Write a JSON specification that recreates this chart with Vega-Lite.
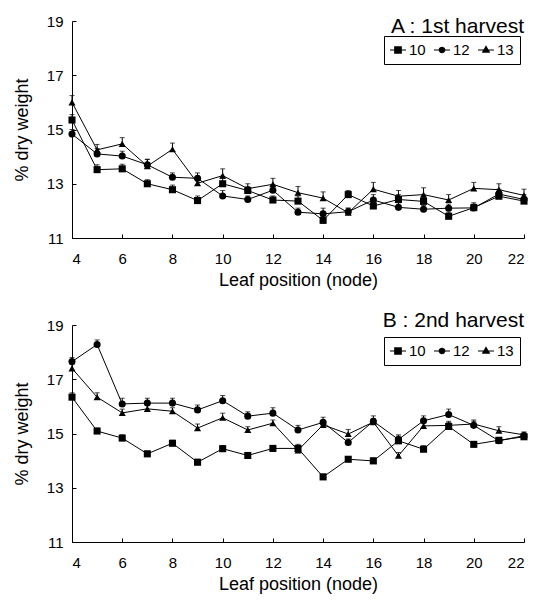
{
  "$schema": "https://vega.github.io/schema/vega-lite/v6.json",
  "padding": {"left": 13, "top": 14, "right": 2, "bottom": 5},
  "background": "white",
  "config": {
    "font": "Liberation Sans",
    "view": {"stroke": null},
    "axis": {
      "domainColor": "black", "tickColor": "black", "labelColor": "black", "titleColor": "black",
      "grid": false, "labelFont": "Liberation Sans", "titleFont": "Liberation Sans",
      "labelFontSize": 15, "titleFontSize": 18, "titleFontWeight": "normal",
      "tickSize": -4, "domainWidth": 1, "tickWidth": 1
    },
    "axisX": {"labelPadding": 17, "titlePadding": 5},
    "axisY": {"labelPadding": 13, "titlePadding": 15},
    "title": {"font": "Liberation Sans", "fontSize": 21, "fontWeight": "normal", "color": "black", "anchor": "end", "frame": "group", "baseline": "alphabetic"},
    "legend": {"labelFont": "Liberation Sans", "labelFontSize": 15, "labelColor": "black"}
  },
  "datasets": {
    "a": [
      {"node":4,"line":"10","v":15.35,"hi":15.55},{"node":5,"line":"10","v":13.52,"hi":13.7},{"node":6,"line":"10","v":13.55,"hi":13.72},{"node":7,"line":"10","v":13.0,"hi":13.15},{"node":8,"line":"10","v":12.78,"hi":12.95},{"node":9,"line":"10","v":12.38,"hi":12.55},{"node":10,"line":"10","v":13.0,"hi":13.2},{"node":11,"line":"10","v":12.75,"hi":12.9},{"node":12,"line":"10","v":12.4,"hi":12.55},{"node":13,"line":"10","v":12.36,"hi":12.55},{"node":14,"line":"10","v":11.65,"hi":11.85},{"node":15,"line":"10","v":12.6,"hi":12.75},{"node":16,"line":"10","v":12.18,"hi":12.35},{"node":17,"line":"10","v":12.42,"hi":12.6},{"node":18,"line":"10","v":12.35,"hi":12.5},{"node":19,"line":"10","v":11.8,"hi":11.95},{"node":20,"line":"10","v":12.12,"hi":12.25},{"node":21,"line":"10","v":12.54,"hi":12.7},{"node":22,"line":"10","v":12.36,"hi":12.5},
      {"node":4,"line":"12","v":14.83,"hi":15.0},{"node":5,"line":"12","v":14.1,"hi":14.3},{"node":6,"line":"12","v":14.02,"hi":14.2},{"node":7,"line":"12","v":13.7,"hi":13.9},{"node":8,"line":"12","v":13.24,"hi":13.4},{"node":9,"line":"12","v":13.2,"hi":13.4},{"node":10,"line":"12","v":12.55,"hi":12.75},{"node":11,"line":"12","v":12.42,"hi":12.55},{"node":12,"line":"12","v":12.76,"hi":12.95},{"node":13,"line":"12","v":11.95,"hi":12.1},{"node":14,"line":"12","v":11.89,"hi":12.1},{"node":15,"line":"12","v":11.97,"hi":12.1},{"node":16,"line":"12","v":12.4,"hi":12.6},{"node":17,"line":"12","v":12.13,"hi":12.3},{"node":18,"line":"12","v":12.06,"hi":12.2},{"node":19,"line":"12","v":12.1,"hi":12.25},{"node":20,"line":"12","v":12.11,"hi":12.3},{"node":21,"line":"12","v":12.62,"hi":12.8},{"node":22,"line":"12","v":12.42,"hi":12.6},
      {"node":4,"line":"13","v":16.0,"hi":16.25},{"node":5,"line":"13","v":14.25,"hi":14.45},{"node":6,"line":"13","v":14.47,"hi":14.7},{"node":7,"line":"13","v":13.65,"hi":13.9},{"node":8,"line":"13","v":14.27,"hi":14.5},{"node":9,"line":"13","v":13.02,"hi":13.2},{"node":10,"line":"13","v":13.3,"hi":13.55},{"node":11,"line":"13","v":12.82,"hi":13.0},{"node":12,"line":"13","v":12.98,"hi":13.2},{"node":13,"line":"13","v":12.67,"hi":12.9},{"node":14,"line":"13","v":12.47,"hi":12.7},{"node":15,"line":"13","v":11.93,"hi":12.1},{"node":16,"line":"13","v":12.8,"hi":13.05},{"node":17,"line":"13","v":12.54,"hi":12.75},{"node":18,"line":"13","v":12.6,"hi":12.85},{"node":19,"line":"13","v":12.4,"hi":12.6},{"node":20,"line":"13","v":12.83,"hi":13.05},{"node":21,"line":"13","v":12.78,"hi":13.0},{"node":22,"line":"13","v":12.57,"hi":12.8}
    ],
    "b": [
      {"node":4,"line":"10","v":16.34,"hi":16.5},{"node":5,"line":"10","v":15.09,"hi":15.2},{"node":6,"line":"10","v":14.83,"hi":14.95},{"node":7,"line":"10","v":14.25,"hi":14.35},{"node":8,"line":"10","v":14.64,"hi":14.75},{"node":9,"line":"10","v":13.94,"hi":14.05},{"node":10,"line":"10","v":14.44,"hi":14.55},{"node":11,"line":"10","v":14.19,"hi":14.3},{"node":12,"line":"10","v":14.45,"hi":14.55},{"node":13,"line":"10","v":14.45,"hi":14.6},{"node":14,"line":"10","v":13.4,"hi":13.5},{"node":15,"line":"10","v":14.05,"hi":14.15},{"node":16,"line":"10","v":13.99,"hi":14.1},{"node":17,"line":"10","v":14.73,"hi":14.95},{"node":18,"line":"10","v":14.42,"hi":14.55},{"node":19,"line":"10","v":15.26,"hi":15.4},{"node":20,"line":"10","v":14.6,"hi":14.7},{"node":21,"line":"10","v":14.75,"hi":14.85},{"node":22,"line":"10","v":14.88,"hi":15.0},
      {"node":4,"line":"12","v":17.65,"hi":17.8},{"node":5,"line":"12","v":18.28,"hi":18.45},{"node":6,"line":"12","v":16.09,"hi":16.3},{"node":7,"line":"12","v":16.12,"hi":16.3},{"node":8,"line":"12","v":16.12,"hi":16.3},{"node":9,"line":"12","v":15.87,"hi":16.05},{"node":10,"line":"12","v":16.21,"hi":16.4},{"node":11,"line":"12","v":15.64,"hi":15.8},{"node":12,"line":"12","v":15.75,"hi":15.95},{"node":13,"line":"12","v":15.13,"hi":15.3},{"node":14,"line":"12","v":15.41,"hi":15.6},{"node":15,"line":"12","v":14.67,"hi":14.8},{"node":16,"line":"12","v":15.45,"hi":15.65},{"node":17,"line":"12","v":14.78,"hi":14.9},{"node":18,"line":"12","v":15.47,"hi":15.65},{"node":19,"line":"12","v":15.7,"hi":15.9},{"node":20,"line":"12","v":15.3,"hi":15.45},{"node":21,"line":"12","v":14.73,"hi":14.85},{"node":22,"line":"12","v":14.92,"hi":15.05},
      {"node":4,"line":"13","v":17.4,"hi":17.55},{"node":5,"line":"13","v":16.34,"hi":16.5},{"node":6,"line":"13","v":15.76,"hi":15.9},{"node":7,"line":"13","v":15.91,"hi":16.05},{"node":8,"line":"13","v":15.82,"hi":15.95},{"node":9,"line":"13","v":15.2,"hi":15.35},{"node":10,"line":"13","v":15.58,"hi":15.75},{"node":11,"line":"13","v":15.13,"hi":15.25},{"node":12,"line":"13","v":15.38,"hi":15.5},{"node":13,"line":"13","v":14.38,"hi":14.5},{"node":14,"line":"13","v":15.32,"hi":15.45},{"node":15,"line":"13","v":14.98,"hi":15.15},{"node":16,"line":"13","v":15.42,"hi":15.55},{"node":17,"line":"13","v":14.18,"hi":14.3},{"node":18,"line":"13","v":15.28,"hi":15.45},{"node":19,"line":"13","v":15.3,"hi":15.45},{"node":20,"line":"13","v":15.35,"hi":15.5},{"node":21,"line":"13","v":15.1,"hi":15.25},{"node":22,"line":"13","v":14.95,"hi":15.05}
    ]
  },
  "spacing": 21,
  "vconcat": [
    {
      "width": 452, "height": 217,
      "title": {"text": "A : 1st harvest", "offset": -23},
      "data": {"name": "a"},
      "encoding": {
        "x": {"field": "node", "type": "quantitative", "scale": {"domain": [4, 22], "nice": false}, "axis": {"values": [4,6,8,10,12,14,16,18,20,22], "title": "Leaf position (node)"}},
        "y": {"field": "v", "type": "quantitative", "scale": {"domain": [11, 19], "nice": false, "zero": false}, "axis": {"values": [11,13,15,17,19], "title": "% dry weight"}}
      },
      "layer": [
        {"mark": {"type": "rule", "color": "black", "strokeWidth": 1}, "encoding": {"y2": {"field": "hi"}}},
        {"mark": {"type": "tick", "orient": "horizontal", "color": "black", "size": 5, "thickness": 1}, "encoding": {"y": {"field": "hi", "type": "quantitative"}}},
        {"mark": {"type": "line", "color": "black", "strokeWidth": 1}, "encoding": {"detail": {"field": "line"}}},
        {"mark": {"type": "point", "filled": true, "color": "black", "opacity": 1, "size": 50},
         "encoding": {"shape": {"field": "line", "type": "nominal", "scale": {"domain": ["10","12","13"], "range": ["square","circle","triangle-up"]}, "legend": null}}},
        {"transform": [{"filter": "false"}],
         "mark": {"type": "point", "filled": true, "color": "black", "opacity": 1, "size": 256},
         "encoding": {"shape": {"field": "line", "type": "nominal",
           "scale": {"domain": ["10","12","13"], "range": ["M-1,-0.07H-0.48V-0.48H0.48V-0.07H1V0.07H0.48V0.48H-0.48V0.07H-1Z", "M-1,-0.07H-0.42A0.43,0.43,0,0,1,0.42,-0.07H1V0.07H0.42A0.43,0.43,0,0,1,-0.42,0.07H-1Z", "M-1,-0.07H-0.3L0,-0.58L0.3,-0.07H1V0.07H0.39L0.52,0.34H-0.52L-0.39,0.07H-1Z"]},
           "legend": {"title": null, "orient": "none", "legendX": 312, "legendY": 15, "direction": "horizontal", "strokeColor": "black", "fillColor": "white", "padding": 6, "columnPadding": 8, "symbolSize": 256, "labelOffset": 3, "symbolStrokeWidth": 0, "symbolFillColor": "black", "symbolOpacity": 1}}}}
      ],
      "resolve": {"scale": {"shape": "independent"}}
    },
    {
      "width": 452, "height": 217,
      "title": {"text": "B : 2nd harvest", "offset": -13},
      "data": {"name": "b"},
      "encoding": {
        "x": {"field": "node", "type": "quantitative", "scale": {"domain": [4, 22], "nice": false}, "axis": {"values": [4,6,8,10,12,14,16,18,20,22], "title": "Leaf position (node)"}},
        "y": {"field": "v", "type": "quantitative", "scale": {"domain": [11, 19], "nice": false, "zero": false}, "axis": {"values": [11,13,15,17,19], "title": "% dry weight"}}
      },
      "layer": [
        {"mark": {"type": "rule", "color": "black", "strokeWidth": 1}, "encoding": {"y2": {"field": "hi"}}},
        {"mark": {"type": "tick", "orient": "horizontal", "color": "black", "size": 5, "thickness": 1}, "encoding": {"y": {"field": "hi", "type": "quantitative"}}},
        {"mark": {"type": "line", "color": "black", "strokeWidth": 1}, "encoding": {"detail": {"field": "line"}}},
        {"mark": {"type": "point", "filled": true, "color": "black", "opacity": 1, "size": 50},
         "encoding": {"shape": {"field": "line", "type": "nominal", "scale": {"domain": ["10","12","13"], "range": ["square","circle","triangle-up"]}, "legend": null}}},
        {"transform": [{"filter": "false"}],
         "mark": {"type": "point", "filled": true, "color": "black", "opacity": 1, "size": 256},
         "encoding": {"shape": {"field": "line", "type": "nominal",
           "scale": {"domain": ["10","12","13"], "range": ["M-1,-0.07H-0.48V-0.48H0.48V-0.07H1V0.07H0.48V0.48H-0.48V0.07H-1Z", "M-1,-0.07H-0.42A0.43,0.43,0,0,1,0.42,-0.07H1V0.07H0.42A0.43,0.43,0,0,1,-0.42,0.07H-1Z", "M-1,-0.07H-0.3L0,-0.58L0.3,-0.07H1V0.07H0.39L0.52,0.34H-0.52L-0.39,0.07H-1Z"]},
           "legend": {"title": null, "orient": "none", "legendX": 312, "legendY": 12, "direction": "horizontal", "strokeColor": "black", "fillColor": "white", "padding": 6, "columnPadding": 8, "symbolSize": 256, "labelOffset": 3, "symbolStrokeWidth": 0, "symbolFillColor": "black", "symbolOpacity": 1}}}}
      ],
      "resolve": {"scale": {"shape": "independent"}}
    }
  ],
  "resolve": {"scale": {"shape": "independent"}, "legend": {"shape": "independent"}}
}
